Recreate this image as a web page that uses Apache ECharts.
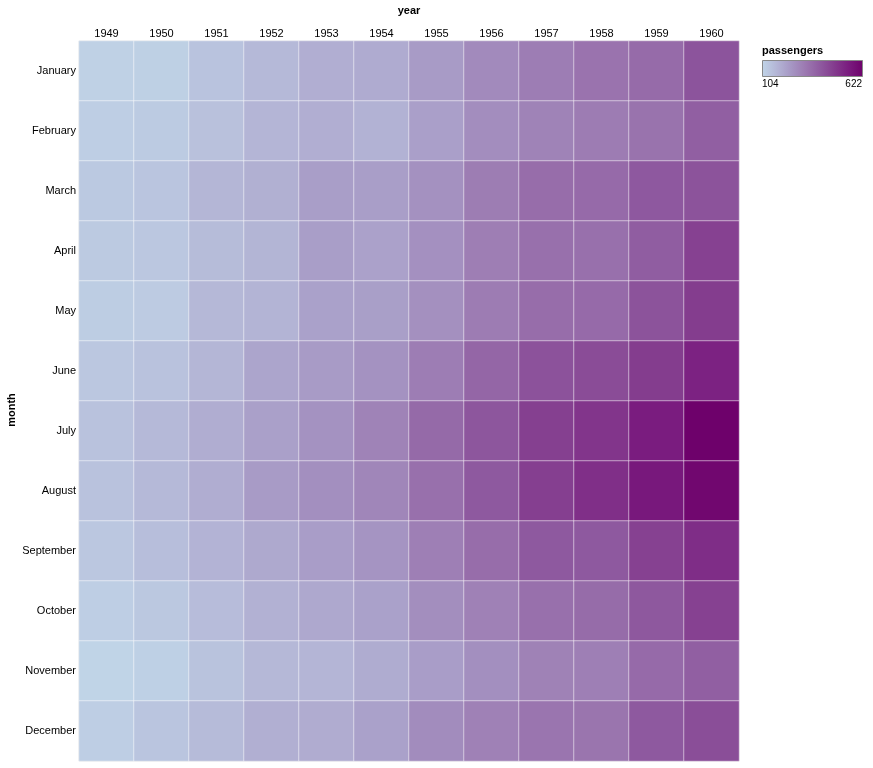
<!DOCTYPE html>
<html>
<head>
<meta charset="utf-8">
<script src="https://cdn.jsdelivr.net/npm/echarts@6/dist/echarts.min.js"></script>
<style>html,body{margin:0;padding:0;background:#fff;}#c{width:873px;height:768px;}</style>
</head>
<body>
<div id="c"></div>
<script>
const years = ['1949','1950','1951','1952','1953','1954','1955','1956','1957','1958','1959','1960'];
const months = ['January','February','March','April','May','June','July','August','September','October','November','December'];
const y1949 = [112,118,132,129,121,135,148,148,136,119,104,118];
const y1950 = [115,126,141,135,125,149,170,170,158,133,114,140];
const y1951 = [145,150,178,163,172,178,199,199,184,162,146,166];
const y1952 = [171,180,193,181,183,218,230,242,209,191,172,194];
const y1953 = [196,196,236,235,229,243,264,272,237,211,180,201];
const y1954 = [204,188,235,227,234,264,302,293,259,229,203,229];
const y1955 = [242,233,267,269,270,315,364,347,312,274,237,278];
const y1956 = [284,277,317,313,318,374,413,405,355,306,271,306];
const y1957 = [315,301,356,348,355,422,465,467,404,347,305,336];
const y1958 = [340,318,362,348,363,435,491,505,404,359,310,337];
const y1959 = [360,342,406,396,420,472,548,559,463,407,362,405];
const y1960 = [417,391,419,461,472,535,622,606,508,461,390,432];
const byYear = [y1949,y1950,y1951,y1952,y1953,y1954,y1955,y1956,y1957,y1958,y1959,y1960];
const legendMin = 104, legendMax = 622;

const colors = ['#c0d4e7','#b4b6d6','#a697c4','#9c79b1','#8f5ba0','#843c8e','#7a1c7f','#6e016b'];

const data = [];
byYear.forEach((arr, xi) => arr.forEach((v, yi) => data.push([xi, yi, v])));

const font = '"Liberation Sans", Arial, Helvetica, sans-serif';
const chart = echarts.init(document.getElementById('c'));
chart.setOption({
  animation: false,
  textStyle: {fontFamily: font},
  grid: {left: 79, right: 134, top: 41, bottom: 7, containLabel: false, outerBoundsMode: 'none',
    show: true, borderColor: '#dddddd', borderWidth: 1},
  xAxis: {
    type: 'category', data: years, position: 'top',
    axisLine: {show: false}, axisTick: {show: false}, splitLine: {show: false},
    axisLabel: {fontSize: 11, color: '#000', margin: 2, fontFamily: font}
  },
  yAxis: {
    type: 'category', data: months, inverse: true,
    axisLine: {show: false}, axisTick: {show: false}, splitLine: {show: false},
    axisLabel: {fontSize: 11, color: '#000', margin: 3, fontFamily: font}
  },
  visualMap: {
    show: false, type: 'continuous', min: legendMin, max: legendMax, dimension: 2,
    inRange: {color: colors}
  },
  series: [{
    type: 'heatmap', data: data,
    itemStyle: {borderColor: 'rgba(255,255,255,0.5)', borderWidth: 1},
    emphasis: {disabled: true}
  }],
  graphic: [
    {type: 'text', x: 409, y: 11, style: {text: 'year', font: 'bold 11px ' + font, fill: '#000', align: 'center', verticalAlign: 'middle'}},
    {type: 'text', x: 12, y: 410, rotation: Math.PI / 2, style: {text: 'month', font: 'bold 11px ' + font, fill: '#000', align: 'center', verticalAlign: 'middle'}},
    {type: 'text', left: 762, top: 45, style: {text: 'passengers', font: 'bold 11px ' + font, fill: '#000'}},
    {type: 'rect', left: 762, top: 60, shape: {width: 100, height: 16},
      style: {stroke: '#888', lineWidth: 1,
        fill: new echarts.graphic.LinearGradient(0, 0, 1, 0, colors.map((c, i) => ({offset: i / (colors.length - 1), color: c})))}},
    {type: 'text', left: 762, top: 79, style: {text: String(legendMin), font: '10px ' + font, fill: '#000'}},
    {type: 'text', right: 873 - 862, top: 79, style: {text: String(legendMax), font: '10px ' + font, fill: '#000', align: 'right'}}
  ]
});
</script>
</body>
</html>
